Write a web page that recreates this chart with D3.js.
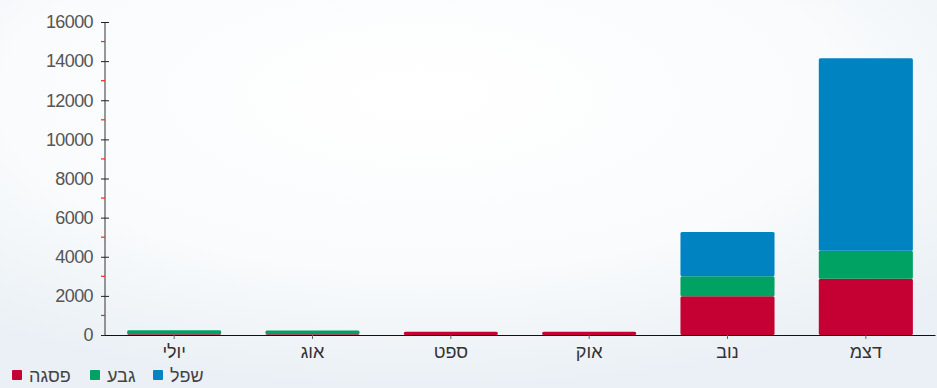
<!DOCTYPE html>
<html>
<head>
<meta charset="utf-8">
<script src="https://cdn.jsdelivr.net/npm/d3@7"></script>
<style>
  body { margin: 0; padding: 0; overflow: hidden; }
  svg { display: block; }
</style>
</head>
<body>
<div id="chart"></div>
<script>
const months = ["יולי", "אוג", "ספט", "אוק", "נוב", "דצמ"];
const peak = [40, 40, 160, 170, 1980, 2880];   // פסגה
const hill = [200, 190, 0, 0, 1020, 1430];     // גבע
const low = [0, 0, 0, 0, 2270, 9840];          // שפל
const seriesNames = ["peak", "hill", "low"];
const seriesLabels = ["פסגה", "גבע", "שפל"];
const seriesColors = ["#c50032", "#00a263", "#0083c1"];
const yTicks = [0, 2000, 4000, 6000, 8000, 10000, 12000, 14000, 16000];

const W = 937, H = 388;
const margin = { top: 22, right: 2, bottom: 53, left: 105 };

const svg = d3.select("#chart").append("svg")
  .attr("width", W)
  .attr("height", H);

const defs = svg.append("defs");
const grad = defs.append("radialGradient")
  .attr("id", "bg")
  .attr("cx", "45%").attr("cy", "25%").attr("r", "75%");
grad.append("stop").attr("offset", "0%").attr("stop-color", "#ffffff");
grad.append("stop").attr("offset", "60%").attr("stop-color", "#f9fbfc");
grad.append("stop").attr("offset", "100%").attr("stop-color", "#eaf0f5");

svg.append("rect").attr("width", W).attr("height", H).attr("fill", "url(#bg)");

const table = months.map((m, i) => ({ month: m, peak: peak[i], hill: hill[i], low: low[i] }));
const stacked = d3.stack().keys(seriesNames)(table);

const x = d3.scaleBand()
  .domain(months)
  .range([margin.left, W - margin.right])
  .paddingInner(0.32)
  .paddingOuter(0.16);

const y = d3.scaleLinear()
  .domain([0, 16000])
  .range([H - margin.bottom, margin.top]);

// bars
svg.append("g").selectAll("g")
  .data(stacked)
  .join("g")
  .attr("fill", (d, i) => seriesColors[i])
  .selectAll("rect")
  .data(d => d.filter(v => v[1] - v[0] > 0))
  .join("rect")
  .attr("x", d => x(d.data.month))
  .attr("width", x.bandwidth())
  .attr("y", d => y(d[1]))
  .attr("height", d => y(d[0]) - y(d[1]))
  .attr("rx", 1.5);

// y axis
const yAxis = svg.append("g")
  .attr("transform", `translate(${margin.left},0)`)
  .call(d3.axisLeft(y).tickValues(yTicks).tickSize(4).tickPadding(8).tickFormat(d3.format("d")));
yAxis.select(".domain").attr("stroke", "#333").attr("d", `M0,${y(16000)}V${y(0)}`);
yAxis.selectAll(".tick line").attr("stroke", "#222").attr("x1", 4).attr("x2", -4);
yAxis.selectAll(".tick text")
  .attr("fill", "#555")
  .style("font-family", "Liberation Sans, Arial, sans-serif")
  .style("font-size", "18px")
  .style("letter-spacing", "-0.6px");

// minor red ticks
svg.append("g").selectAll("line")
  .data(d3.range(1000, 16000, 2000))
  .join("line")
  .attr("x1", margin.left - 4)
  .attr("x2", margin.left)
  .attr("y1", d => y(d))
  .attr("y2", d => y(d))
  .attr("stroke", "#ff2020")
  .attr("stroke-width", 1.2);

// x axis
const xAxis = svg.append("g")
  .attr("transform", `translate(0,${y(0)})`)
  .call(d3.axisBottom(x).tickSize(4).tickPadding(6).tickSizeOuter(0));
xAxis.select(".domain").attr("stroke", "#111").attr("stroke-width", 1.2);
xAxis.selectAll(".tick line").attr("stroke", "#666");
xAxis.selectAll(".tick text")
  .attr("fill", "#333")
  .style("font-family", "Liberation Sans, Arial, sans-serif")
  .style("font-size", "18px");

// legend
const legendX = [12, 90, 153];
const legend = svg.append("g").selectAll("g")
  .data(seriesLabels)
  .join("g")
  .attr("transform", (d, i) => `translate(${legendX[i]},370)`);
legend.append("rect")
  .attr("width", 10).attr("height", 10).attr("rx", 1)
  .attr("fill", (d, i) => seriesColors[i]);
legend.append("text")
  .attr("x", 17)
  .attr("y", 12)
  .attr("fill", "#444")
  .style("font-family", "Liberation Sans, Arial, sans-serif")
  .style("font-size", "18px")
  .text(d => d);
</script>
</body>
</html>
